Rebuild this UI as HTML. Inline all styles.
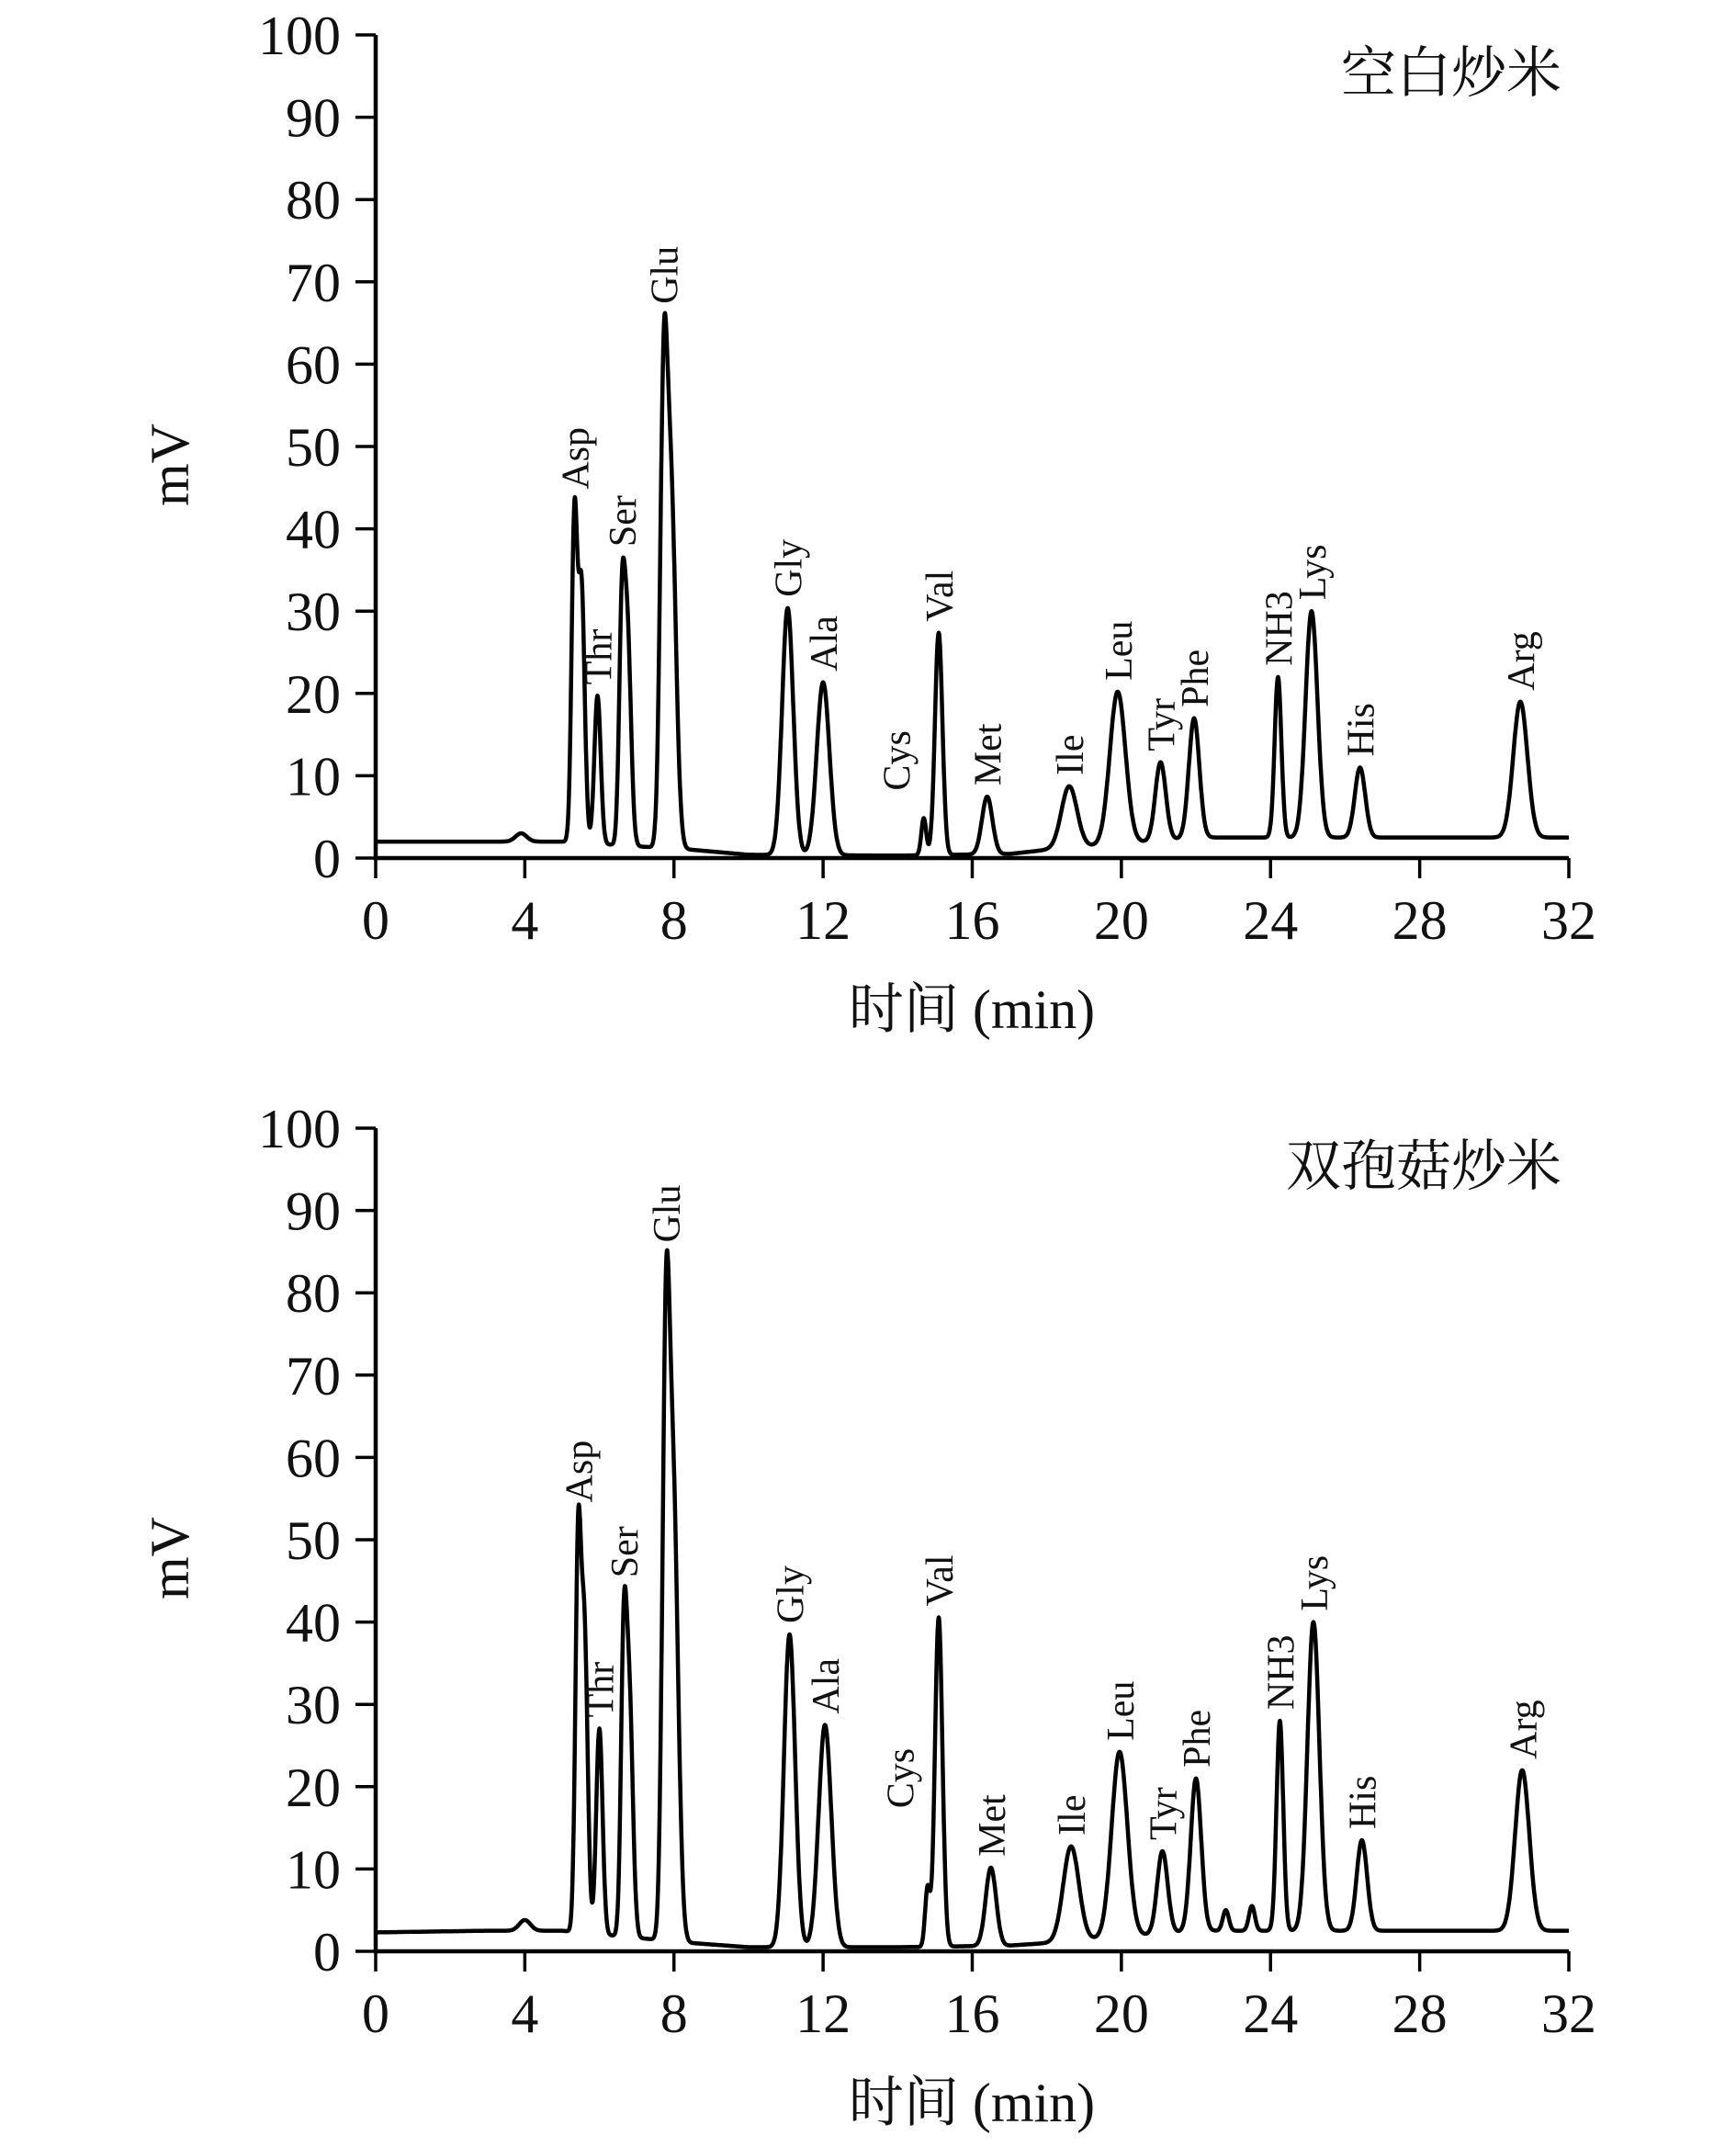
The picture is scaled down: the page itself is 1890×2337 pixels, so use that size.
<!DOCTYPE html>
<html><head><meta charset="utf-8"><style>
html,body{margin:0;padding:0;background:#fff;}
svg{display:block;}
text{font-family:"Liberation Serif","Noto Serif CJK SC",serif;fill:#111;}
</style></head><body>
<svg id="chart" width="1890" height="2337" viewBox="0 0 1890 2337" xmlns="http://www.w3.org/2000/svg"></svg>
<script>
const xTicks = [0,4,8,12,16,20,24,28,32];
const yTicks = [0,10,20,30,40,50,60,70,80,90,100];
const peakNames = ["Asp","Asp2","Thr","Ser","Ser2","Glu","Glu2","Gly","Ala","Cys","Val","Met","Ile","Leu","Tyr","Phe","NH3","Lys","His","Arg","bump"];
const peakLabels = ["Asp","","Thr","Ser","","Glu","","Gly","Ala","Cys","Val","Met","Ile","Leu","Tyr","Phe","NH3","Lys","His","Arg",""];
const peakSigma = [0.075,0.085,0.085,0.075,0.095,0.095,0.13,0.15,0.17,0.065,0.1,0.14,0.21,0.21,0.14,0.14,0.09,0.16,0.14,0.19,0.15];
// panel 1 (空白炒米)
const timesA = [5.33,5.52,5.95,6.6,6.75,7.72,7.92,11.05,12.0,14.7,15.1,16.4,18.6,19.9,21.05,21.95,24.2,25.1,26.4,30.7,3.9];
const heightsA = [39,31,18,25,26,49,43,30,21,4.5,27,7,7.5,18.5,9.5,14.5,19.5,27.5,8.5,16.5,1];
const baseTA = [0,3,5,8.5,10,14,17,18,22,32];
const baseVA = [2,2,2,1,0.4,0.3,0.5,1,2.5,2.5];
// panel 2 (双孢菇炒米)
const timesB = [5.43,5.6,6.0,6.65,6.8,7.78,7.98,11.1,12.05,14.8,15.1,16.5,18.65,19.95,21.1,22.0,24.25,25.15,26.45,30.75,4.0];
const heightsB = [46,36,25,32,29,64,54,38,27,7,40,9.5,11.5,22.5,10,18.5,25.5,37.5,11,19.5,1.3];
const extraTB = [22.8,23.5];
const extraHB = [2.5,3];
const baseTB = [0,3,5,8.5,10,14,17,18,22,32];
const baseVB = [2.3,2.5,2.5,1,0.5,0.5,0.7,1,2.5,2.5];

const NS="http://www.w3.org/2000/svg";
const svg=document.getElementById('chart');
function mk(tag,attrs,parent){const e=document.createElementNS(NS,tag);for(const k in attrs)e.setAttribute(k,attrs[k]);(parent||svg).appendChild(e);return e;}
function interp(ts,vs,t){for(let i=0;i<ts.length-1;i++){if(t<=ts[i+1]){return vs[i]+(vs[i+1]-vs[i])*(t-ts[i])/(ts[i+1]-ts[i]);}}return vs[vs.length-1];}

function panel(cfg){
  const x0=409,x1=1708,y0=cfg.y0,y100=cfg.y100;
  const X=t=>x0+(x1-x0)*t/32;
  const Y=v=>y0+(y100-y0)*v/100;
  const g=mk('g',{});
  
  
  const ax=mk('path',{d:`M${x0},${y100} L${x0},${y0} L${x1},${y0}`,stroke:'#000','stroke-width':4.5,fill:'none'},g);
  
  
  yTicks.forEach(v=>{
    mk('line',{x1:x0-22,x2:x0,y1:Y(v),y2:Y(v),stroke:'#000','stroke-width':3.5},g);
    const t=mk('text',{x:x0-38,y:Y(v)+21,'text-anchor':'end','font-size':60},g);
    t.textContent=v;
    
    
  });
  xTicks.forEach(v=>{
    mk('line',{x1:X(v),x2:X(v),y1:y0,y2:y0+22,stroke:'#000','stroke-width':3.5},g);
    const t=mk('text',{x:X(v),y:y0+88,'text-anchor':'middle','font-size':60},g);
    t.textContent=v;
    
    
  });
  const xl=mk('text',{x:1058,y:y0+185,'text-anchor':'middle','font-size':60},g);
  xl.textContent='时间 (min)';
  
  
  const yl=mk('text',{x:0,y:0,'text-anchor':'middle','font-size':60,transform:`translate(205,${(y0+y100)/2+20}) rotate(-90)`},g);
  yl.textContent='mV';
  
  
  const tt=mk('text',{x:1700,y:y100+62,'text-anchor':'end','font-size':60},g);
  tt.textContent=cfg.title;
  
  
  const sig=t=>{let v=interp(cfg.bt,cfg.bv,t);
    for(let i=0;i<cfg.times.length;i++){const d=(t-cfg.times[i])/peakSigma[i];v+=cfg.heights[i]*Math.exp(-0.5*d*d);}
    for(let i=0;i<cfg.et.length;i++){const d=(t-cfg.et[i])/0.08;v+=cfg.eh[i]*Math.exp(-0.5*d*d);}
    return v;};
  let d='';
  for(let t=0;t<=32.0001;t+=0.01){d+=(d?'L':'M')+X(t).toFixed(1)+','+Y(sig(t)).toFixed(1);}
  const p=mk('path',{d:d,stroke:'#000','stroke-width':4.5,fill:'none','stroke-linejoin':'round'},g);
  
  
  for(let i=0;i<cfg.times.length;i++){
    if(!peakLabels[i])continue;
    let tm=cfg.times[i];
    if(peakLabels[i]==='Cys')tm-=0.75;
    let top=0;for(let k=-3;k<=3;k++)top=Math.max(top,sig(cfg.times[i]+k*0.05));
    if(peakLabels[i]==='Cys')top+=2;
    const lx=X(tm)+15, ly=Y(top)-12;
    const lt=mk('text',{x:0,y:0,'font-size':42,transform:`translate(${lx},${ly}) rotate(-90)`},g);
    lt.textContent=peakLabels[i];
    
    
  }
}
panel({name:'panel-control',title:'空白炒米',y0:934,y100:38,times:timesA,heights:heightsA,bt:baseTA,bv:baseVA,et:[],eh:[]});
panel({name:'panel-mushroom',title:'双孢菇炒米',y0:2124,y100:1228,times:timesB,heights:heightsB,bt:baseTB,bv:baseVB,et:extraTB,eh:extraHB});
</script>
</body></html>
